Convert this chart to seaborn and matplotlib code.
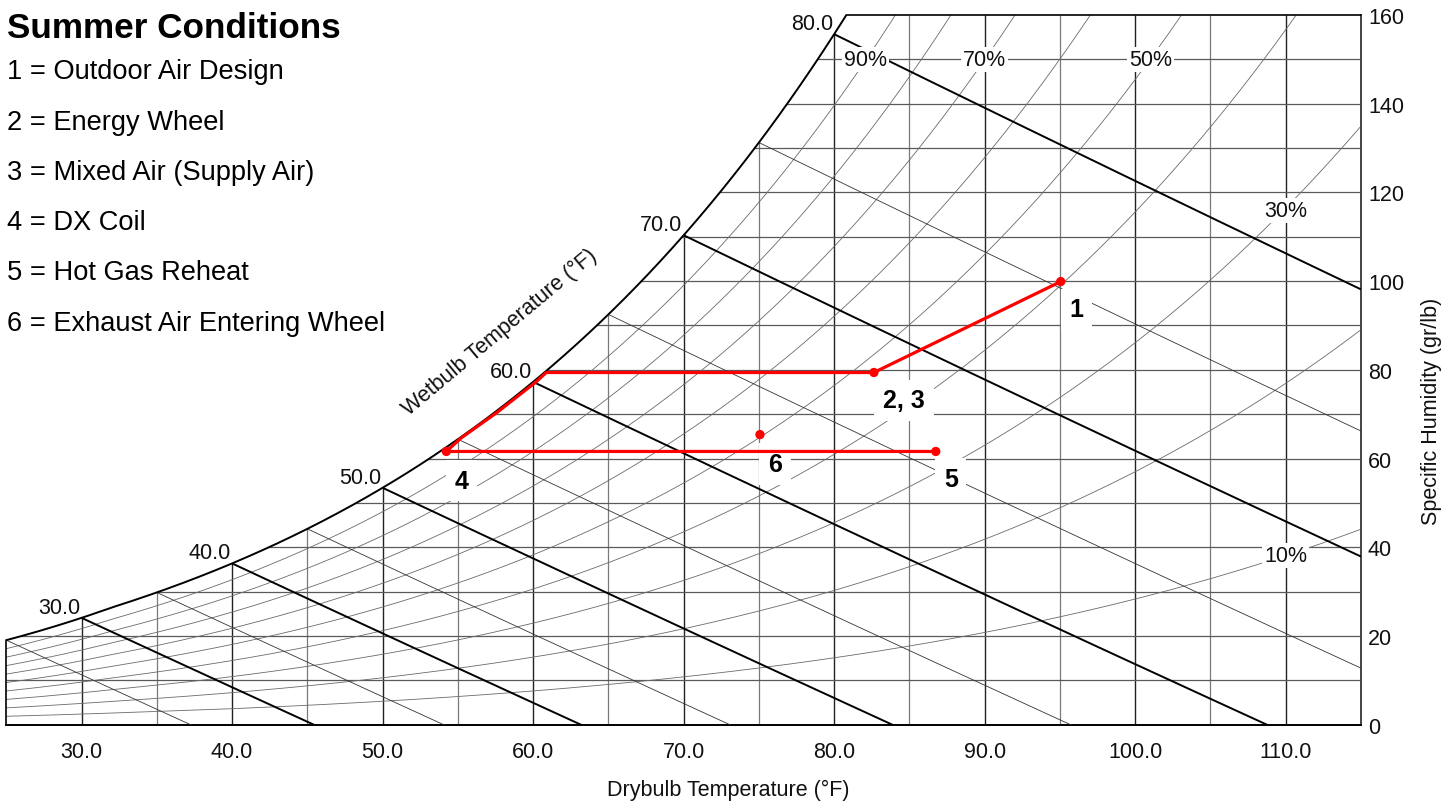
import numpy as np
import pandas as pd
import seaborn as sns
import matplotlib
matplotlib.use("Agg")
import matplotlib.pyplot as plt
from matplotlib.patches import Polygon

# ---- data ----
# red process path: 1 -> 2,3 -> along coil -> 4 -> 5   (drybulb F, gr/lb)
path_t = [95.05, 82.64, 60.87, 60.2, 57.6, 55.2, 54.23, 86.75]
path_w = [99.9, 79.4, 79.4, 77.3, 70.4, 64.6, 61.6, 61.6]

# state points
point_t = [95.05, 82.64, 54.23, 86.75, 75.07]
point_w = [99.9, 79.4, 61.6, 61.6, 65.4]
point_labels = ["1", "2, 3", "4", "5", "6"]

legend_lines = ["1 = Outdoor Air Design", "2 = Energy Wheel",
                "3 = Mixed Air (Supply Air)", "4 = DX Coil",
                "5 = Hot Gas Reheat", "6 = Exhaust Air Entering Wheel"]

# chart grid definitions
rh_levels = [0.1, 0.2, 0.3, 0.4, 0.5, 0.6, 0.7, 0.8, 0.9]
rh_label_text = ["90%", "70%", "50%", "30%", "10%"]
rh_label_t = [82.1, 90.0, 101.0, 110.0, 110.0]
rh_label_w = [150.0, 150.0, 150.0, 116.0, 38.1]
wb_major = [30, 40, 50, 60, 70, 80]
wb_minor = [25, 35, 45, 55, 65, 75]
x_ticks = [30, 40, 50, 60, 70, 80, 90, 100, 110]
y_ticks = [0, 20, 40, 60, 80, 100, 120, 140, 160]

P = 14.696  # psia
FS = 15.5


def pws(tf):
    tr = np.asarray(tf, dtype=float) + 459.67
    water = np.exp(-1.0440397e4 / tr - 1.1294650e1 - 2.7022355e-2 * tr
                   + 1.2890360e-5 * tr**2 - 2.4780681e-9 * tr**3
                   + 6.5459673 * np.log(tr))
    ice = np.exp(-1.0214165e4 / tr - 4.8932428 - 5.3765794e-3 * tr
                 + 1.9202377e-7 * tr**2 + 3.5575832e-10 * tr**3
                 - 9.0344688e-14 * tr**4 + 4.1635019 * np.log(tr))
    return np.where(tf < 32, ice, water)


def w_from_pw(pw):
    return 0.621945 * pw / (P - pw)  # lb/lb


def w_wetbulb(t, twb):
    ws = w_from_pw(pws(twb))
    return ((1093 - 0.556 * twb) * ws - 0.240 * (t - twb)) / (1093 + 0.444 * t - twb)


sns.set_theme(style="white")
plt.rcParams["font.family"] = ["Liberation Sans", "DejaVu Sans"]

fig = plt.figure(figsize=(14.53, 8.03), dpi=100)
ax = fig.add_axes([6.3 / 1453, 77.3 / 803, (1361 - 6.3) / 1453, (725.7 - 16) / 803])
ax.set_xlim(25, 115)
ax.set_ylim(0, 160)

t_dense = np.linspace(25, 115, 1801)
wsat = w_from_pw(pws(t_dense)) * 7000
t160 = np.interp(160, wsat, t_dense)
under = wsat <= 160

# clip region below the saturation curve
verts = [(25, 0), (115, 0), (115, 160), (t160, 160)]
verts += list(zip(t_dense[under][::-1], wsat[under][::-1]))
clip = Polygon(verts, closed=True, transform=ax.transData)


def clipped(x, y, color, lw, z=2):
    ln, = ax.plot(x, y, color=color, lw=lw, zorder=z, solid_capstyle="butt")
    ln.set_clip_path(clip)


# vertical grid
for t in range(30, 115, 5):
    if t % 10 == 0:
        clipped([t, t], [0, 160], "#222222", 1.0)
    else:
        clipped([t, t], [0, 160], "#7a7a7a", 0.9)
# horizontal grid
for w in range(10, 160, 10):
    clipped([25, 115], [w, w], "#5a5a5a", 0.9)

# RH curves
rh_df = pd.DataFrame({
    "t": np.tile(t_dense, len(rh_levels)),
    "w": np.concatenate([w_from_pw(r * pws(t_dense)) * 7000 for r in rh_levels]),
    "rh": np.repeat(rh_levels, len(t_dense)),
})
rh_df = rh_df[rh_df.w <= 170]
for r, g in rh_df.groupby("rh"):
    sns.lineplot(data=g, x="t", y="w", ax=ax, color="#6a6a6a", lw=0.6,
                 estimator=None, sort=False, zorder=2)
    ax.lines[-1].set_clip_path(clip)

# wetbulb lines
for twb in wb_minor:
    tt = np.linspace(twb, 115, 400)
    ww = w_wetbulb(tt, twb) * 7000
    m = ww >= -1
    clipped(tt[m], ww[m], "#333333", 0.6, 3)
for twb in wb_major:
    tt = np.linspace(twb, 115, 400)
    ww = w_wetbulb(tt, twb) * 7000
    m = ww >= -1
    clipped(tt[m], ww[m], "black", 1.4, 3)
    ws = w_from_pw(pws(twb)) * 7000
    ax.annotate(f"{twb:.1f}", (twb, ws), xytext=(-1, 3.6), textcoords="offset points",
                ha="right", va="baseline", fontsize=FS, color="#111111")

# saturation curve and borders
ax.plot(t_dense[under], wsat[under], color="black", lw=1.4, zorder=4)
ax.plot([t160, 115], [160, 160], color="black", lw=1.2, zorder=4, clip_on=False)
ax.plot([25, 25], [0, wsat[0]], color="black", lw=1.2, zorder=4, clip_on=False)

# RH labels
for txt, t, w in zip(rh_label_text, rh_label_t, rh_label_w):
    ax.text(t, w, txt, ha="center", va="center", fontsize=FS, color="#111111",
            zorder=5, bbox=dict(boxstyle="square,pad=0.1", fc="white", ec="none"))

ax.text(57.77, 88.7, "Wetbulb Temperature (°F)", rotation=40, ha="center", va="center",
        fontsize=FS, color="#111111", rotation_mode="anchor")

# process path and points
sns.lineplot(x=path_t, y=path_w, ax=ax, color="red", lw=2.3, estimator=None,
             sort=False, zorder=7)
sns.scatterplot(x=point_t, y=point_w, ax=ax, color="red", s=45, edgecolor="none",
                zorder=8)
offsets = [(11.5, -20), (21.6, -20), (10.8, -21), (10.8, -19.5), (10.8, -21)]
for lab, t, w, off in zip(point_labels, point_t, point_w, offsets):
    ax.annotate(lab, (t, w), xytext=off, textcoords="offset points", ha="center",
                va="center", fontsize=18, fontweight="bold", color="black", zorder=6,
                bbox=dict(boxstyle="square,pad=0.35", fc="white", ec="none"))

# axes styling
for s in ["left", "top"]:
    ax.spines[s].set_visible(False)
ax.spines["bottom"].set_color("black")
ax.spines["bottom"].set_linewidth(1.4)
ax.spines["right"].set_color("#444444")
ax.spines["right"].set_linewidth(1.4)
ax.set_xticks(x_ticks)
ax.set_xticklabels([f"{v:.1f}" for v in x_ticks])
ax.set_yticks(y_ticks)
ax.yaxis.tick_right()
ax.tick_params(axis="x", length=0, pad=12, labelsize=FS, labelcolor="#111111")
ax.tick_params(axis="y", length=0, pad=5, labelsize=FS, labelcolor="#111111")
ax.set_xlabel("")
ax.set_ylabel("")
ax.grid(False)

fig.text(728 / 1453, 1 - 790 / 803, "Drybulb Temperature (°F)", ha="center",
         va="center", fontsize=FS, color="#111111")
fig.text(1432 / 1453, 1 - 411 / 803, "Specific Humidity (gr/lb)", ha="center",
         va="center", rotation=90, fontsize=FS, color="#111111")

# title + key
fig.text(7 / 1453, 1 - 37.7 / 803, "Summer Conditions", ha="left", va="baseline",
         fontsize=25.3, fontweight="bold", color="black")
for i, line in enumerate(legend_lines):
    fig.text(7 / 1453, 1 - (79.3 + 50.3 * i) / 803, line, ha="left", va="baseline",
             fontsize=19.6, color="black")

fig.savefig("out.png", dpi=100, facecolor="white")
